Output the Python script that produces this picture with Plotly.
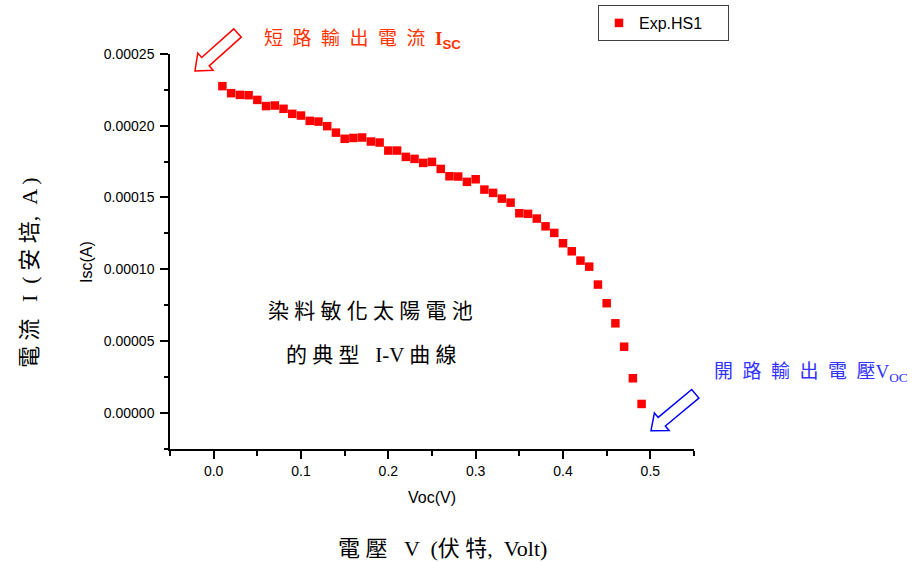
import plotly.graph_objects as go

# ---- data ----
voltage = [0.01, 0.02, 0.03, 0.04, 0.05, 0.06, 0.07, 0.08, 0.09, 0.10,
           0.11, 0.12, 0.13, 0.14, 0.15, 0.16, 0.17, 0.18, 0.19, 0.20,
           0.21, 0.22, 0.23, 0.24, 0.25, 0.26, 0.27, 0.28, 0.29, 0.30,
           0.31, 0.32, 0.33, 0.34, 0.35, 0.36, 0.37, 0.38, 0.39, 0.40,
           0.41, 0.42, 0.43, 0.44, 0.45, 0.46, 0.47, 0.48, 0.49]
current = [2.276e-4, 2.227e-4, 2.215e-4, 2.213e-4, 2.180e-4, 2.137e-4, 2.141e-4, 2.118e-4, 2.083e-4, 2.071e-4,
           2.034e-4, 2.029e-4, 1.997e-4, 1.952e-4, 1.909e-4, 1.915e-4, 1.918e-4, 1.890e-4, 1.883e-4, 1.827e-4,
           1.827e-4, 1.783e-4, 1.769e-4, 1.741e-4, 1.748e-4, 1.699e-4, 1.648e-4, 1.646e-4, 1.609e-4, 1.627e-4,
           1.555e-4, 1.532e-4, 1.492e-4, 1.464e-4, 1.390e-4, 1.386e-4, 1.353e-4, 1.299e-4, 1.253e-4, 1.181e-4,
           1.125e-4, 1.060e-4, 1.018e-4, 0.893e-4, 0.763e-4, 0.623e-4, 0.460e-4, 0.240e-4, 0.061e-4]
series_name = "Exp.HS1"
x_ticks = [0.0, 0.1, 0.2, 0.3, 0.4, 0.5]
y_ticks = [0.0, 0.00005, 0.00010, 0.00015, 0.00020, 0.00025]

# ---- layout geometry (pixels) ----
W, H = 917, 562
PL, PR, PT, PB = 170, 694, 54, 449


def px(x, y):
    return (x - PL) / (PR - PL), (PB - y) / (PB - PT)


def block_arrow(tip, tail, head_len, head_half, shaft_half):
    tx, ty = tip
    ex, ey = tail
    L = ((ex - tx) ** 2 + (ey - ty) ** 2) ** 0.5
    dx, dy = (ex - tx) / L, (ey - ty) / L
    nx, ny = -dy, dx
    bx, by = tx + dx * head_len, ty + dy * head_len
    pts = [(tx, ty),
           (bx + nx * head_half, by + ny * head_half),
           (bx + nx * shaft_half, by + ny * shaft_half),
           (ex + nx * shaft_half, ey + ny * shaft_half),
           (ex - nx * shaft_half, ey - ny * shaft_half),
           (bx - nx * shaft_half, by - ny * shaft_half),
           (bx - nx * head_half, by - ny * head_half)]
    s = ""
    for i, (x, y) in enumerate(pts):
        u, v = px(x, y)
        s += ("M" if i == 0 else "L") + f"{u:.5f},{v:.5f} "
    return s + "Z"


fig = go.Figure()
fig.add_trace(go.Scatter(
    x=voltage, y=current, mode="markers", name=series_name,
    marker=dict(symbol="square", size=8.5, color="#FF0000", line=dict(width=0)),
))

axis_common = dict(
    showline=True, linecolor="black", linewidth=1.5, mirror=False,
    showgrid=False, zeroline=False,
    ticks="outside", ticklen=8, tickwidth=1.5, tickcolor="black",
    tickfont=dict(family="Arial, Liberation Sans", size=14, color="black"),
)

fig.update_xaxes(range=[-0.05, 0.55], tickvals=x_ticks, tickformat=".1f",
                 minor=dict(dtick=0.05, tick0=0, ticks="outside", ticklen=5,
                            tickwidth=1.5, tickcolor="black"),
                 **axis_common)
fig.update_yaxes(range=[-0.0000253, 0.00025], tickvals=y_ticks, tickformat=".5f",
                 ticklabelstandoff=3,
                 minor=dict(dtick=0.000025, tick0=0, ticks="outside", ticklen=4,
                            tickwidth=1.5, tickcolor="black"),
                 **axis_common)

serif = "Liberation Serif, Noto Sans CJK TC"
sans = "Arial, Liberation Sans"
annotations = []


def add_text(text, x, y, size, color="black", family=serif, xanchor="center",
             yanchor="middle", angle=0):
    u, v = px(x, y)
    annotations.append(dict(text=text, x=u, y=v, xref="paper", yref="paper",
                            showarrow=False, xanchor=xanchor, yanchor=yanchor,
                            textangle=angle,
                            font=dict(family=family, size=size, color=color)))


add_text("Voc(V)", 432, 497, 16, family=sans)
add_text("Isc(A)", 86, 262, 16, family=sans, angle=-90)
add_text("電 壓   V  (伏 特,  Volt)", 442, 548, 22)
add_text("電 流   I  ( 安 培,  A )", 29, 273, 22, angle=-90)
add_text("染 料 敏 化 太 陽 電 池", 370, 311, 21)
add_text("的 典 型   I-V 曲 線", 371, 355, 21)
add_text("短  路  輸  出  電  流  <b>I</b><sub><b><span style='font-family:Arial'>SC</span></b></sub>",
         262, 40, 19, color="#FF3300", xanchor="left")
add_text("開  路  輸  出  電  壓V<sub>OC</sub>",
         712, 373, 19, color="#3333FF", xanchor="left")

shapes = [
    dict(type="path", xref="paper", yref="paper",
         path=block_arrow((195, 71), (237.5, 33), 14, 11.5, 5.6),
         line=dict(color="#FF0000", width=1.5), fillcolor="rgba(0,0,0,0)"),
    dict(type="path", xref="paper", yref="paper",
         path=block_arrow((651, 430.7), (695.3, 393.8), 14, 11.5, 5.6),
         line=dict(color="#0000FF", width=1.5), fillcolor="rgba(0,0,0,0)"),
]

lx, ly = px(598, 5)
fig.update_layout(
    width=W, height=H,
    margin=dict(l=PL, r=W - PR, t=PT, b=H - PB, autoexpand=False),
    paper_bgcolor="white", plot_bgcolor="white",
    showlegend=True,
    legend=dict(x=lx, y=ly, xanchor="left", yanchor="top",
                orientation="h", entrywidth=84, entrywidthmode="pixels",
                bordercolor="#404040", borderwidth=1, bgcolor="white",
                font=dict(family=sans, size=16, color="black"),
                itemsizing="trace", tracegroupgap=0),
    annotations=annotations, shapes=shapes,
)

fig.write_html("out.html",
               config={"displayModeBar": False},
               post_script="document.body.style.margin='0';document.body.style.overflow='hidden';")
